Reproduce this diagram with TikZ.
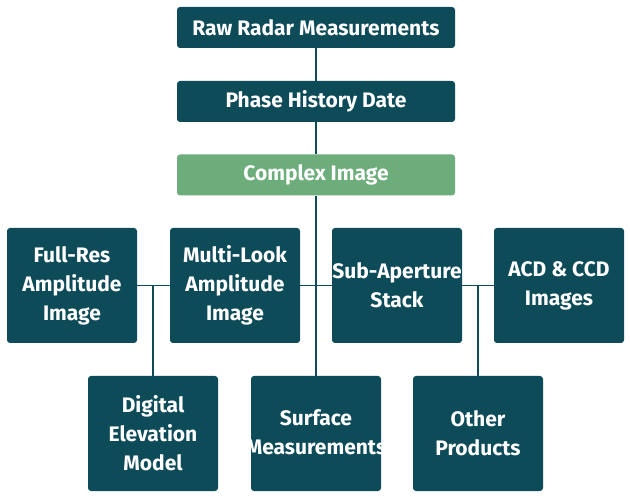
\documentclass[tikz,border=0pt]{standalone}
\usepackage{fontspec}
\setmainfont{Fira Sans}[UprightFont=* Bold]
\definecolor{deepteal}{HTML}{0E4B58}
\definecolor{leafgreen}{HTML}{6DAD7B}
\begin{document}
\begin{tikzpicture}[x=1pt,y=-1pt,
  label font/.style={font=\fontsize{21}{29}\selectfont},
  box/.style={rectangle, rounded corners=3pt, fill=deepteal, text=white,
    label font, align=center, inner sep=0pt},
  wide/.style={box, minimum width=278pt, minimum height=41pt},
  tile/.style={box, minimum width=130pt, minimum height=115pt},
  link/.style={draw=deepteal, line width=1.6pt}]
\useasboundingbox (0,0) rectangle (630,497);

% main chain
\node[wide] (raw) at (316,27.5) {Raw Radar Measurements};
\node[wide] (phase) at (316,101.5) {Phase History Date};
\node[wide, fill=leafgreen] (cx) at (316,175) {Complex Image};

% image products
\node[tile] (fr) at (72,285.5) {Full-Res\\Amplitude\\Image};
\node[tile] (ml) at (235,285.5) {Multi-Look\\Amplitude\\Image};
\node[tile] (sa) at (397,285.5) {Sub-Aperture\\Stack};
\node[tile] (acd) at (559,285.5) {ACD \& CCD\\Images};

% derived products
\node[tile] (dem) at (153,433.5) {Digital\\Elevation\\Model};
\node[tile] (surf) at (316,433.5) {};
\begin{scope}
  \clip[rounded corners=3pt] (surf.south west) rectangle (surf.north east);
  \node[label font, text=white, align=center, inner sep=0pt]
    (surftext) at (316,432) {Surface\\Measurements};
\end{scope}
\node[tile] (oth) at (478,433.5) {Other\\Products};

% connectors
\draw[link] (raw.south) -- (phase.north);
\draw[link] (phase.south) -- (cx.north);
\draw[link] (cx.south) -- (surf.north);
\draw[link] (ml.east) -- (sa.west);
\draw[link] (fr.east) -- (ml.west);
\draw[link] (sa.east) -- (acd.west);
\coordinate (j1) at (dem.north |- fr.east);
\coordinate (j2) at (oth.north |- sa.east);
\draw[link] (j1) -- (dem.north);
\draw[link] (j2) -- (oth.north);
\end{tikzpicture}
\end{document}
